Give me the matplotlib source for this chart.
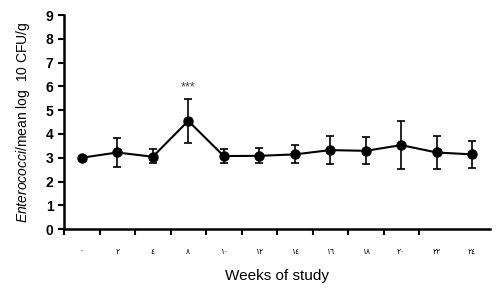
import numpy as np
import matplotlib.pyplot as plt

plt.rcParams['font.family'] = ['Liberation Sans', 'DejaVu Sans']
plt.rcParams['mathtext.fontset'] = 'custom'
plt.rcParams['mathtext.it'] = 'Liberation Sans:italic'
plt.rcParams['mathtext.rm'] = 'Liberation Sans'

# weeks of study, labels as printed (Arabic-Indic digits)
week_labels = ['٠', '٢', '٤', '٨', '١٠', '١٢', '١٤', '١٦', '١٨', '٢٠', '٢٢', '٢٤']
means = [3.0, 3.22, 3.04, 4.55, 3.07, 3.08, 3.14, 3.32, 3.29, 3.53, 3.22, 3.14]
err_low = [0.05, 0.60, 0.28, 0.91, 0.28, 0.29, 0.38, 0.59, 0.56, 1.01, 0.70, 0.59]
err_high = [0.05, 0.59, 0.31, 0.90, 0.30, 0.31, 0.39, 0.60, 0.60, 1.02, 0.70, 0.57]
star_week = 3
star_text = '***'

fig = plt.figure(figsize=(5, 3.01), dpi=100)
ax = fig.add_axes([0.128, 0.239, 0.852, 0.711])

x = np.arange(len(means))
ax.errorbar(x, means, yerr=[err_low, err_high], color='black', lw=1.5,
            marker='o', markersize=6.5, elinewidth=1.2, capsize=3, capthick=1.2)
ax.text(x[star_week], means[star_week] + err_high[star_week] + 0.25, star_text,
        ha='center', va='bottom', fontsize=9, color='#444444')

ax.set_xlim(-0.5, len(means) - 0.5)
ax.set_ylim(0, 9)
ax.set_yticks(range(0, 10))
ax.tick_params(axis='y', labelsize=10, width=1.5, length=4)
for lab in ax.get_yticklabels():
    lab.set_fontweight('bold')

ax.set_xticks(np.arange(len(means) - 1) - 0.5)
ax.set_xticklabels([])
ax.set_xticks(x, minor=True)
ax.set_xticklabels(week_labels, minor=True, fontsize=5.5)
ax.tick_params(axis='x', which='major', width=1.5, length=4)
ax.tick_params(axis='x', which='minor', length=0, pad=14)

for s in ['top', 'right']:
    ax.spines[s].set_visible(False)
for s in ['left', 'bottom']:
    ax.spines[s].set_linewidth(1.8)

ax.set_xlabel('Weeks of study', fontsize=11, labelpad=10)
ax.set_ylabel(r'$\it{Enterococci}$/mean log  10 CFU/g', fontsize=10, labelpad=10)

fig.savefig('out.png', dpi=100)
